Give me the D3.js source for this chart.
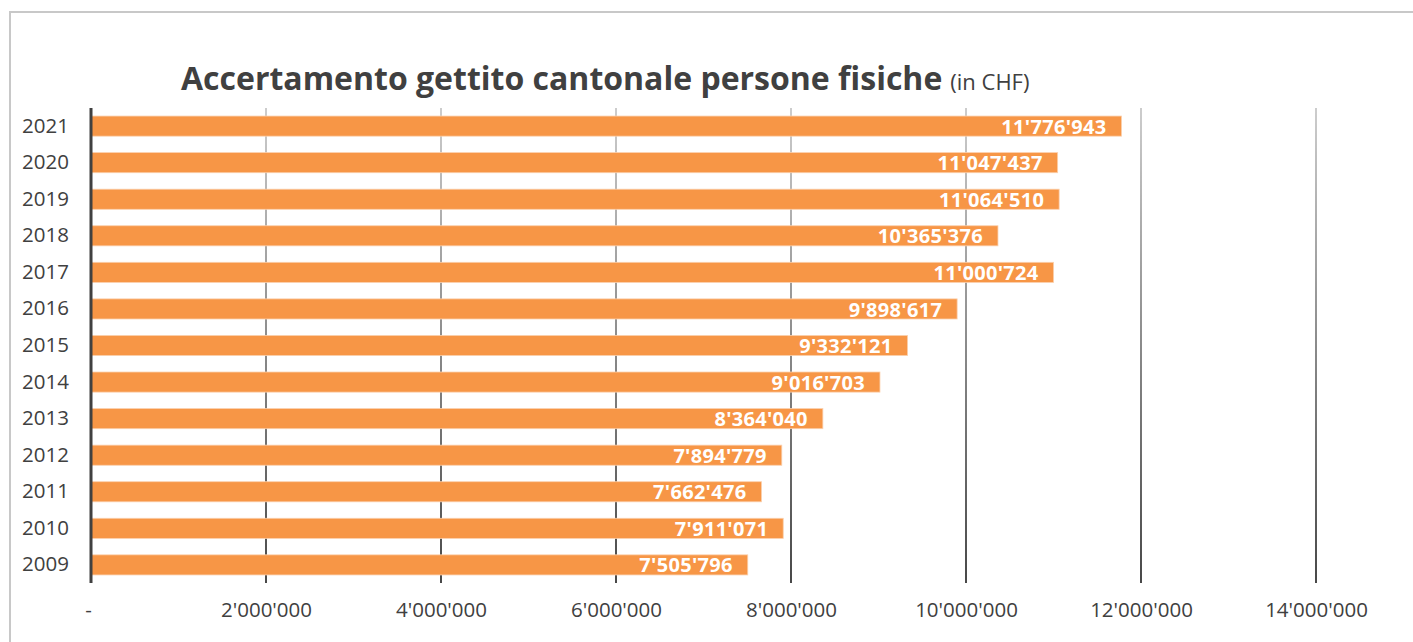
<!DOCTYPE html>
<html><head><meta charset="utf-8">
<script src="https://cdn.jsdelivr.net/npm/d3@7/dist/d3.min.js"></script>
<style>body{margin:0;background:#fff}svg{display:block}</style>
</head><body>
<svg id="c" width="1413" height="642"></svg>
<script>
const years = ["2021","2020","2019","2018","2017","2016","2015","2014","2013","2012","2011","2010","2009"];
const values = [11776943,11047437,11064510,10365376,11000724,9898617,9332121,9016703,8364040,7894779,7662476,7911071,7505796];
const xTicks = [0,2000000,4000000,6000000,8000000,10000000,12000000,14000000];
const titleMain = "Accertamento gettito cantonale persone fisiche";
const titleSub = "(in CHF)";

const font = "'Open Sans',sans-serif";
const svg = d3.select("#c");
const fmt = v => v === 0 ? "-" : d3.format(",")(v).replace(/,/g, "'");

const x = d3.scaleLinear().domain([0, 14000000]).range([91, 1316]);
const y = d3.scaleBand().domain(years).range([108, 583]).paddingInner(0.45).paddingOuter(0.22);

// frame
svg.append("path").attr("d","M10,642V12H1413").attr("fill","none").attr("stroke","#c8c8c8").attr("stroke-width",2);

// gradient for gridlines
const defs = svg.append("defs");
const g = defs.append("linearGradient").attr("id","gg").attr("gradientUnits","userSpaceOnUse")
  .attr("x1",0).attr("y1",108).attr("x2",0).attr("y2",583);
g.append("stop").attr("offset","0").attr("stop-color","#c0c0c0");
g.append("stop").attr("offset","1").attr("stop-color","#1a1a1a");

// gridlines
svg.append("g").selectAll("line").data(xTicks.slice(1)).join("line")
  .attr("x1", d => x(d)).attr("x2", d => x(d)).attr("y1",108).attr("y2",583)
  .attr("stroke","url(#gg)").attr("stroke-width",1.6);

// bars
svg.append("g").selectAll("rect").data(values).join("rect")
  .attr("x", x(0)).attr("y", (d,i) => y(years[i]))
  .attr("width", d => x(d) - x(0)).attr("height", y.bandwidth())
  .attr("fill","#f79646").attr("stroke","#fbd0ad").attr("stroke-width",0.8);

// labels
svg.append("g").selectAll("text").data(values).join("text")
  .attr("x", d => x(d) - 15).attr("y", (d,i) => y(years[i]) + y.bandwidth()/2)
  .attr("dy","0.38em").attr("text-anchor","end")
  .attr("fill","#fff").attr("font-weight","bold").attr("font-size",20).attr("letter-spacing",0.3)
  .attr("font-family",font).text(fmt);

// y axis
const ya = svg.append("g").attr("transform",`translate(${x(0)},0)`)
  .call(d3.axisLeft(y).tickSize(0).tickPadding(22));
ya.select(".domain").attr("stroke","#404040").attr("stroke-width",3).attr("d","M0,108V583");
ya.selectAll("text").attr("font-family",font).attr("font-size",20.5).attr("fill","#404040");

// x axis labels
const xa = svg.append("g").attr("transform","translate(0,583)")
  .call(d3.axisBottom(x).tickValues(xTicks).tickFormat(fmt).tickSize(0).tickPadding(19));
xa.select(".domain").remove();
xa.selectAll("text").attr("font-family",font).attr("font-size",20.5).attr("fill","#404040");
xa.selectAll(".tick").filter(d => d === 0).select("text").attr("dx",-3);

// title
const t = svg.append("text").attr("x",181).attr("y",90).attr("font-family",font).attr("fill","#404040");
t.append("tspan").attr("font-size",32).attr("font-weight","bold").text(titleMain);
t.append("tspan").attr("font-size",22).attr("dx",8).text(titleSub);
</script>
</body></html>
